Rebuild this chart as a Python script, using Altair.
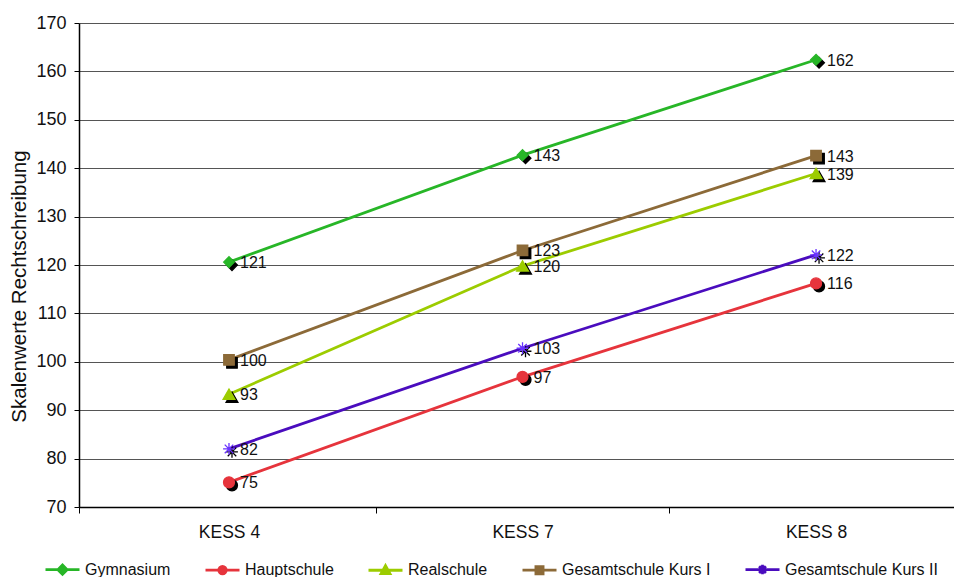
import altair as alt
import pandas as pd

# Survey waves on the x axis
waves = ["KESS 4", "KESS 7", "KESS 8"]

# Mean spelling scale scores per school type
schools = ["Gymnasium", "Hauptschule", "Realschule", "Gesamtschule Kurs I", "Gesamtschule Kurs II"]
gymnasium = [120.6, 142.7, 162.4]
hauptschule = [75.1, 96.9, 116.2]
realschule = [93.3, 119.8, 138.9]
gesamt_kurs1 = [100.4, 123.0, 142.6]
gesamt_kurs2 = [82.0, 102.8, 122.1]

colors = ["#27B627", "#E6343C", "#9CCC00", "#8C6A38", "#4A0CBE"]
marker_colors = ["#27B627", "#E6343C", "#9CCC00", "#8C6A38", "#6A33FF"]

asterisk = "M-1,0L1,0M0,-1L0,1M-0.72,-0.72L0.72,0.72M-0.72,0.72L0.72,-0.72"
shapes = ["diamond", "circle", "triangle-up", "square", asterisk]
marker_sizes = [115, 120, 140, 110, 140]

# Legend symbols: a short line with the series marker in its centre
legend_paths = [
    "M-1,0L1,0M0,-0.27L0.27,0L0,0.27L-0.27,0Z",
    "M-1,0L1,0M0.22,0A0.22,0.22,0,1,1,-0.22,0A0.22,0.22,0,1,1,0.22,0Z",
    "M-1,0L1,0M0,-0.27L0.26,0.2L-0.26,0.2Z",
    "M-1,0L1,0M-0.21,-0.21L0.21,-0.21L0.21,0.21L-0.21,0.21Z",
    "M-1,0L1,0M0,-0.28L0,0.28M-0.2,-0.2L0.2,0.2M-0.2,0.2L0.2,-0.2",
]

# Category centres get labels, category boundaries get ticks
centres = [0, 1, 2]
boundaries = [-0.511, 0.5, 1.5]

rows = []
for name, vals in zip(schools, [gymnasium, hauptschule, realschule, gesamt_kurs1, gesamt_kurs2]):
    for i, (w, v) in enumerate(zip(waves, vals)):
        rows.append({"schule": name, "welle": w, "pos": i, "wert": v})
df = pd.DataFrame(rows)

label_expr = "([" + ",".join(f"'{w}'" for w in waves) + "][datum.value] || '')"
is_boundary = "(" + " || ".join(f"datum.value == {b}" for b in boundaries) + ")"

x_scale = alt.Scale(domain=[-0.511, 2.47], nice=False, zero=False)
y_scale = alt.Scale(domain=[70, 170], nice=False, zero=False)
color_scale = alt.Scale(domain=schools, range=colors)

FONT = "Liberation Sans"
INK = "#111"

base = alt.Chart(df)
xq = alt.X("pos:Q", scale=x_scale)
yq = alt.Y("wert:Q", scale=y_scale)

# Invisible layer carrying both axes
axis_layer = base.mark_point(opacity=0).encode(
    x=alt.X("pos:Q", scale=x_scale,
            axis=alt.Axis(values=sorted(centres + boundaries), labelExpr=label_expr,
                          labelOverlap=False, labelFlush=False, labelBound=False,
                          ticks=True, tickSize=6, tickColor="#000", tickWidth=1,
                          tickOpacity={"condition": {"test": is_boundary, "value": 1}, "value": 0},
                          domain=True, domainColor="#000", domainWidth=1.5, labelPadding=10,
                          labelFontSize=17.5, labelColor=INK, grid=False, title=None,
                          labelFont=FONT)),
    y=alt.Y("wert:Q", scale=y_scale,
            axis=alt.Axis(values=list(range(70, 171, 10)), title="Skalenwerte Rechtschreibung",
                          titleFontSize=20.5, titleFontWeight="normal", titleColor=INK,
                          titlePadding=6, titleFont=FONT, titleY=263,
                          labelFontSize=18, labelColor=INK, labelPadding=8, labelFont=FONT,
                          tickSize=5, tickColor="#000", domainColor="#000", domainWidth=1.5,
                          grid=True, gridColor="#555", gridWidth=1)),
)

line_layers, shadow_layers, marker_layers = [], [], []
for name, c, shp, mc, sz in zip(schools, colors, shapes, marker_colors, marker_sizes):
    sub = base.transform_filter(alt.datum.schule == name)
    line_layers.append(sub.mark_line(color=c, strokeWidth=2.8).encode(x=xq, y=yq))
    shadow_layers.append(
        sub.mark_point(shape=shp, filled=True, fill="black", stroke="black", strokeWidth=1.3,
                       size=sz, xOffset=3, yOffset=3, opacity=1).encode(x=xq, y=yq)
    )
    marker_layers.append(
        sub.mark_point(shape=shp, filled=True, fill=mc, stroke=mc, strokeWidth=1.3,
                       size=sz, opacity=1).encode(x=xq, y=yq)
    )

labels = base.mark_text(align="left", baseline="middle", dx=11, dy=1, fontSize=16,
                        font=FONT, color=INK).encode(
    x=xq,
    y=yq,
    text=alt.Text("wert:Q", format=".0f"),
)

# Legend: symbols come from the colour, stroke and shape scales of an empty layer
legend_layer = base.transform_filter("false").mark_point(filled=True, opacity=1).encode(
    x=xq,
    y=yq,
    color=alt.Color(
        "schule:N", scale=color_scale,
        legend=alt.Legend(
            title=None, orient="none", legendX=-35, legendY=528, direction="horizontal",
            columns=5, symbolSize=1156, symbolStrokeWidth=2.8, labelFontSize=16,
            labelFont=FONT, labelColor=INK, labelOffset=4,
            columnPadding=28, labelLimit=300,
        ),
    ),
    stroke=alt.Stroke("schule:N", scale=alt.Scale(domain=schools, range=colors)),
    shape=alt.Shape("schule:N", scale=alt.Scale(domain=schools, range=legend_paths)),
)

chart = alt.layer(
    legend_layer, axis_layer, *line_layers, *shadow_layers, *marker_layers, labels
).properties(
    width=875,
    height=484,
    autosize=alt.AutoSizeParams(type="none"),
    padding={"left": 79, "top": 23, "right": 0, "bottom": 70},
    background="white",
).configure_view(stroke=None)

chart.save("out.html", embed_options={"renderer": "svg", "actions": False})
